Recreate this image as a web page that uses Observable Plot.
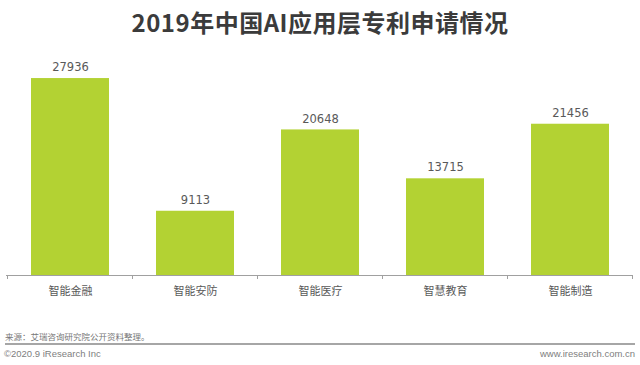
<!DOCTYPE html>
<html><head><meta charset="utf-8">
<script src="https://cdn.jsdelivr.net/npm/d3@7"></script>
<script src="https://cdn.jsdelivr.net/npm/@observablehq/plot@0.6"></script>
<style>
body{margin:0;background:#fff;width:640px;height:365px;position:relative;overflow:hidden;font-family:"Noto Sans CJK SC","DejaVu Sans",sans-serif;}
#title{position:absolute;top:6px;left:0;width:640px;text-align:center;font-size:24px;font-weight:bold;color:#3b3b3b;letter-spacing:0.5px;line-height:32px;}
#chart{position:absolute;top:45px;left:0;}
#source{position:absolute;top:330px;left:5px;font-size:8.5px;color:#777;line-height:12px;}
#line{position:absolute;top:343px;left:5px;width:630px;height:2px;background:#a6a6a6;}
#copy{position:absolute;top:347px;left:4px;font-size:9.5px;color:#808080;font-family:"Liberation Sans","DejaVu Sans",sans-serif;line-height:13px;}
#url{position:absolute;top:347px;right:5px;font-size:9.5px;color:#808080;font-family:"Liberation Sans","DejaVu Sans",sans-serif;line-height:13px;}
</style></head>
<body>
<div id="title">2019年中国AI应用层专利申请情况</div>
<div id="chart"></div>
<div id="source">来源：艾瑞咨询研究院公开资料整理。</div>
<div id="line"></div>
<div id="copy">©2020.9 iResearch Inc</div>
<div id="url">www.iresearch.com.cn</div>
<script>
const categories = ["智能金融", "智能安防", "智能医疗", "智慧教育", "智能制造"];
const values = [27936, 9113, 20648, 13715, 21456];

const data = categories.map((c, i) => ({category: c, value: values[i]}));

// band-boundary tick marks drawn from the x scale
function boundaryTicks(index, scales, channels, dimensions) {
  const x = scales.x;
  const step = x.step();
  const y0 = scales.y(0);
  const g = d3.create("svg:g");
  const positions = categories.map(c => x(c) - (step - x.bandwidth()) / 2);
  positions.push(positions[positions.length - 1] + step);
  for (const px of positions) {
    g.append("line").attr("x1", px).attr("x2", px).attr("y1", y0).attr("y2", y0 + 4)
      .attr("stroke", "#a0a0a0").attr("stroke-width", 1);
  }
  return g.node();
}

const chart = Plot.plot({
  width: 640,
  height: 260,
  marginTop: 18.5,
  marginBottom: 30,
  marginLeft: 6,
  marginRight: 7,
  style: {fontFamily: "'Noto Sans CJK SC', 'DejaVu Sans', sans-serif", background: "transparent"},
  x: {domain: categories, paddingInner: 0.38, paddingOuter: 0.19, label: null},
  y: {domain: [0, 30000], axis: null},
  marks: [
    Plot.barY(data, {x: "category", y: "value", fill: "#b3d233"}),
    Plot.ruleY([0], {stroke: "#a0a0a0", strokeWidth: 1}),
    boundaryTicks,
    Plot.text(data, {x: "category", y: "value", text: d => String(d.value), dy: -11,
      fill: "#595959", fontSize: 11.5, fontFamily: "'DejaVu Sans', sans-serif"}),
    Plot.axisX({tickSize: 0, tickPadding: 12, fontSize: 11, color: "#595959", label: null})
  ]
});
document.getElementById("chart").appendChild(chart);
</script>
</body></html>
